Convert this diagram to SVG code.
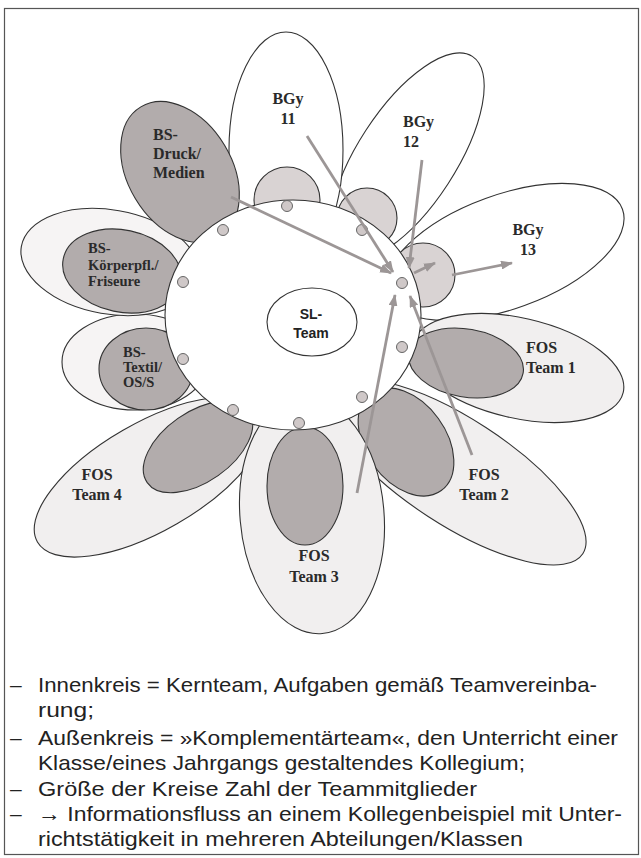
<svg xmlns="http://www.w3.org/2000/svg" width="641" height="858" viewBox="0 0 641 858">
<style>
.ol{stroke:#333;stroke-width:1.1}
.w{fill:#fff}
.lt{fill:#f1efef}
.bs{fill:#f6f4f4}
.dk{fill:#b2acac}
.md{fill:#d9d3d3}
.lbl{font-family:"Liberation Serif","Times New Roman",serif;font-weight:bold;font-size:16px;fill:#2a2a2a}
.lbs{font-family:"Liberation Serif","Times New Roman",serif;font-weight:bold;font-size:14.5px;fill:#2a2a2a}
.dot{fill:#cfc8c8;stroke:#666;stroke-width:1}
.arr{stroke:#9c9696;stroke-width:2.8;fill:none;marker-end:url(#ah)}
.leg{font-family:"Liberation Sans",Arial,sans-serif;font-size:21px;fill:#222}
</style>
<defs>
<marker id="ah" markerUnits="userSpaceOnUse" markerWidth="12" markerHeight="9" refX="11" refY="4.5" orient="auto">
<path d="M0,0 L12,4.5 L0,9 z" fill="#9c9696"/>
</marker>
</defs>
<rect x="0" y="0" width="641" height="858" fill="#fff"/>
<rect x="4.5" y="8.5" width="634" height="846" fill="none" stroke="#555" stroke-width="1.2"/>

<g id="bgy13">
<ellipse class="w ol" cx="505" cy="252" rx="125" ry="57" transform="rotate(-20 505 252)"/>
<circle class="md ol" cx="423" cy="275" r="32"/>
<text class="lbl" x="528" y="235" text-anchor="middle">BGy</text>
<text class="lbl" x="528" y="255" text-anchor="middle">13</text>
</g>
<g id="bgy12">
<ellipse class="w ol" cx="407" cy="157" rx="120" ry="49" transform="rotate(-57 407 157)"/>
<circle class="md ol" cx="367" cy="218" r="30"/>
<text class="lbl" x="403" y="127">BGy</text>
<text class="lbl" x="403" y="147">12</text>
</g>
<g id="bgy11">
<ellipse class="w ol" cx="286" cy="150" rx="57" ry="118"/>
<circle class="md ol" cx="287" cy="200" r="33"/>
<text class="lbl" x="288" y="104" text-anchor="middle">BGy</text>
<text class="lbl" x="288" y="124" text-anchor="middle">11</text>
</g>
<g id="fos1">
<ellipse class="lt ol" cx="518" cy="368" rx="108" ry="50" transform="rotate(13 518 368)"/>
<ellipse class="dk ol" cx="466" cy="363" rx="58" ry="34" transform="rotate(10 466 363)"/>
<text class="lbl" x="526" y="353">FOS</text>
<text class="lbl" x="526" y="373">Team 1</text>
</g>
<g id="fos2">
<ellipse class="lt ol" cx="457" cy="472" rx="150" ry="53" transform="rotate(33 457 472)"/>
<ellipse class="dk ol" cx="406" cy="442" rx="60" ry="40" transform="rotate(54 406 442)"/>
<text class="lbl" x="484" y="480" text-anchor="middle">FOS</text>
<text class="lbl" x="484" y="500" text-anchor="middle">Team 2</text>
</g>
<g id="fos4">
<ellipse class="lt ol" cx="150" cy="477" rx="130" ry="54" transform="rotate(-30 150 477)"/>
<ellipse class="dk ol" cx="198" cy="447" rx="62" ry="35" transform="rotate(-35 198 447)"/>
<text class="lbl" x="97" y="480" text-anchor="middle">FOS</text>
<text class="lbl" x="97" y="500" text-anchor="middle">Team 4</text>
</g>
<g id="fos3">
<ellipse class="lt ol" cx="312" cy="515" rx="72" ry="119" transform="rotate(-5 312 515)"/>
<ellipse class="dk ol" cx="305" cy="486" rx="38" ry="59"/>
<text class="lbl" x="314" y="561" text-anchor="middle">FOS</text>
<text class="lbl" x="314" y="582" text-anchor="middle">Team 3</text>
</g>
<g id="bs-textil">
<ellipse class="bs ol" cx="135" cy="362" rx="73" ry="48"/>
<ellipse class="dk ol" cx="146" cy="369" rx="47" ry="41"/>
<text class="lbs" x="123" y="357">BS-</text>
<text class="lbs" x="123" y="372">Textil/</text>
<text class="lbs" x="123" y="387">OS/S</text>
</g>
<g id="bs-koerperpfl">
<ellipse class="bs ol" cx="110" cy="262" rx="90" ry="52" transform="rotate(10 110 262)"/>
<ellipse class="dk ol" cx="122" cy="271" rx="60" ry="41" transform="rotate(12 122 271)"/>
<text class="lbs" x="88" y="253">BS-</text>
<text class="lbs" x="88" y="270">Körperpfl./</text>
<text class="lbs" x="88" y="286">Friseure</text>
</g>
<g id="bs-druck">
<ellipse class="dk ol" cx="180" cy="172" rx="76" ry="52" transform="rotate(59 180 172)"/>
<text class="lbl" x="153" y="140">BS-</text>
<text class="lbl" x="153" y="159">Druck/</text>
<text class="lbl" x="153" y="178">Medien</text>
</g>

<g id="kernteam">
<ellipse class="w ol" cx="293" cy="315" rx="128" ry="115"/>
<circle class="dot" cx="287" cy="206" r="5.5"/>
<circle class="dot" cx="223" cy="230" r="5.5"/>
<circle class="dot" cx="183" cy="282" r="5.5"/>
<circle class="dot" cx="183" cy="359" r="5.5"/>
<circle class="dot" cx="233" cy="410" r="5.5"/>
<circle class="dot" cx="299" cy="423" r="5.5"/>
<circle class="dot" cx="362" cy="397" r="5.5"/>
<circle class="dot" cx="402" cy="347" r="5.5"/>
<circle class="dot" cx="402" cy="283" r="5.5"/>
<circle class="dot" cx="362" cy="230" r="5.5"/>
</g>
<g id="sl-team">
<ellipse class="w ol" cx="312" cy="322" rx="45" ry="34"/>
<text x="311" y="319" text-anchor="middle" font-family="Liberation Sans,Arial,sans-serif" font-size="14" font-weight="bold" fill="#222">SL-</text>
<text x="311" y="338" text-anchor="middle" font-family="Liberation Sans,Arial,sans-serif" font-size="14" font-weight="bold" fill="#222">Team</text>
</g>

<g id="connectors">
<line class="arr" x1="307" y1="136" x2="393" y2="272"/>
<line class="arr" x1="422" y1="160" x2="409" y2="268"/>
<line class="arr" x1="231" y1="197" x2="391" y2="273"/>
<line class="arr" x1="414" y1="273" x2="435" y2="263"/>
<line class="arr" x1="452" y1="275" x2="512" y2="263"/>
<line class="arr" x1="357" y1="493" x2="395" y2="295"/>
<line class="arr" x1="472" y1="455" x2="410" y2="296"/>
</g>

<g id="legend" class="leg">
<text x="10" y="692">–</text>
<text x="38" y="692" textLength="559" lengthAdjust="spacingAndGlyphs">Innenkreis = Kernteam, Aufgaben gemäß Teamvereinba-</text>
<text x="38" y="717" textLength="56" lengthAdjust="spacingAndGlyphs">rung;</text>
<text x="10" y="745">–</text>
<text x="38" y="745" textLength="580" lengthAdjust="spacingAndGlyphs">Außenkreis = »Komplementärteam«, den Unterricht einer</text>
<text x="38" y="770" textLength="487" lengthAdjust="spacingAndGlyphs">Klasse/eines Jahrgangs gestaltendes Kollegium;</text>
<text x="10" y="796">–</text>
<text x="38" y="796" textLength="439" lengthAdjust="spacingAndGlyphs">Größe der Kreise Zahl der Teammitglieder</text>
<text x="10" y="821">–</text>
<text x="38" y="821" textLength="584" lengthAdjust="spacingAndGlyphs">→ Informationsfluss an einem Kollegenbeispiel mit Unter-</text>
<text x="38" y="846" textLength="485" lengthAdjust="spacingAndGlyphs">richtstätigkeit in mehreren Abteilungen/Klassen</text>
</g>
</svg>
